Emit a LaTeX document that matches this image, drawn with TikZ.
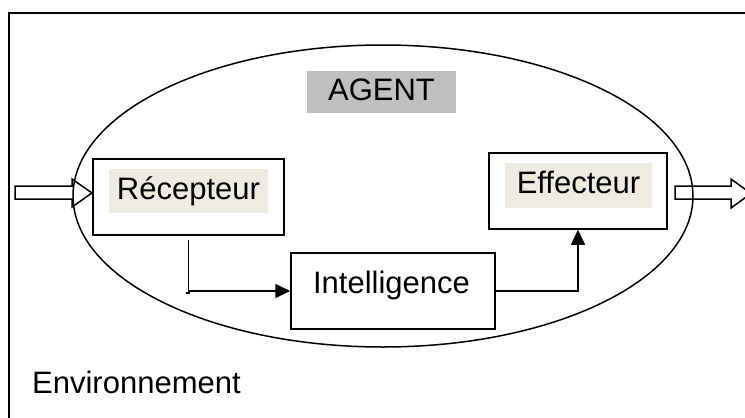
\documentclass[tikz,border=0pt]{standalone}
\usepackage{fontspec}
\setmainfont{Liberation Sans}
\usetikzlibrary{arrows.meta}
\definecolor{labeltan}{HTML}{EEECE1}
\definecolor{agentgrey}{HTML}{C0C0C0}
\begin{document}
\begin{tikzpicture}[x=1pt,y=-1pt,
  every node/.style={font=\fontsize{31}{35}\selectfont, inner sep=0pt},
  blockbox/.style={draw, line width=1.5pt, fill=white},
  tanlabel/.style={fill=labeltan, text height=22pt, text depth=6pt},
  flow/.style={line width=1.5pt, -{Triangle[length=15pt,width=14pt]}},
  hollow/.style={draw, line width=1.5pt, line join=miter}]
  \useasboundingbox (0,0) rectangle (745,418);
  \begin{scope}
    \clip (0,0) rectangle (745,418);
    % environment frame (runs past the page on the right and bottom)
    \draw[line width=2.2pt] (9,13) rectangle (820,480);
    % agent boundary
    \draw[line width=1.5pt] (383,196) ellipse [x radius=310, y radius=151];

    % agent title
    \node[fill=agentgrey, minimum width=149pt, minimum height=42pt,
          text height=22pt, text depth=6pt] (agent) at (381.5,92) {AGENT};

    % blocks
    \node[blockbox, minimum width=191pt, minimum height=76pt] (recbox) at (188.5,197) {};
    \node[tanlabel, minimum width=159pt, minimum height=44pt] (reclabel) at (188.5,191) {Récepteur};

    \node[blockbox, minimum width=178pt, minimum height=76pt] (effbox) at (578,191) {};
    \node[tanlabel, minimum width=147pt, minimum height=45pt] (efflabel) at (578.5,185.5) {Effecteur};

    \node[blockbox, minimum width=204pt, minimum height=76pt] (intbox) at (393,291) {};
    \node[anchor=base] (intlabel) at (391.5,293) {Intelligence};

    % internal flow
    \draw[flow] ([yshift=-4pt]recbox.south) |- (intbox.west);
    \draw[line width=1.5pt] (186,293) -- (190,293);
    \draw[flow] (intbox.east) -| (effbox.south);

    % percept coming in, action going out
    \coordinate (inA) at (15,186);
    \coordinate (outA) at (675,186);
    \draw[hollow] (inA) -- (72,186) -- (72,179) -- (92,193) -- (72,207)
                  -- (72,199) -- (15,199) -- cycle;
    \draw[hollow] (outA) -- (731,186) -- (731,179) -- (751,193.5) -- (731,208)
                  -- (731,199) -- (675,199) -- cycle;

    % environment caption
    \node[anchor=base west] (env) at (32,393) {Environnement};
  \end{scope}
\end{tikzpicture}
\end{document}
